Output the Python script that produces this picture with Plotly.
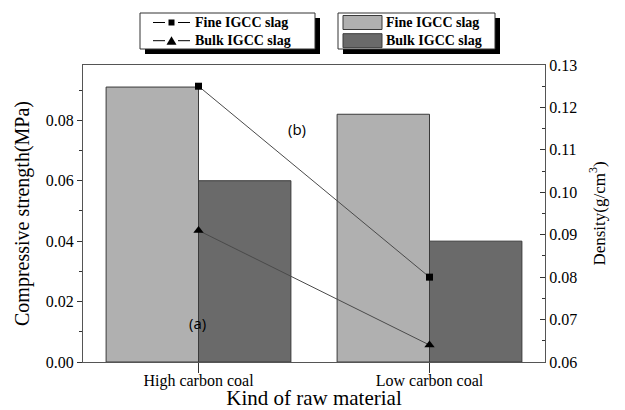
import plotly.graph_objects as go

categories = ["High carbon coal", "Low carbon coal"]
strength_fine = [0.091, 0.082]
strength_bulk = [0.060, 0.040]
density_fine = [0.125, 0.080]
density_bulk = [0.091, 0.064]
series_names = ["Fine IGCC slag", "Bulk IGCC slag"]

SERIF = "Times New Roman, Liberation Serif, serif"
LIGHT, DARK, EDGE, LINE = "#b0b0b0", "#6a6a6a", "#3a3a3a", "#4a4a4a"

# plot-area geometry in pixels (for the hand-drawn legend boxes)
W, H = 625, 410
L, R, T, B = 83, 80, 65, 48
PW, PH = W - L - R, H - T - B


def px(x):
    return (x - L) / PW


def py(y):
    return (H - B - y) / PH


fig = go.Figure()
fig.add_trace(go.Bar(x=categories, y=strength_fine, name=series_names[0],
                     marker=dict(color=LIGHT, line=dict(color=EDGE, width=1))))
fig.add_trace(go.Bar(x=categories, y=strength_bulk, name=series_names[1],
                     marker=dict(color=DARK, line=dict(color=EDGE, width=1))))
fig.add_trace(go.Scatter(x=categories, y=density_fine, name=series_names[0], yaxis="y2",
                         mode="lines+markers", line=dict(color=LINE, width=1),
                         marker=dict(symbol="square", size=7, color="black")))
fig.add_trace(go.Scatter(x=categories, y=density_bulk, name=series_names[1], yaxis="y2",
                         mode="lines+markers", line=dict(color=LINE, width=1),
                         marker=dict(symbol="triangle-up", size=9, color="black")))

shapes = []
annotations = []

ROW1, ROW2 = 22.5, 40.7   # legend row centres (px), 1.3 x 14 px line spacing
BOX_T, BOX_B = 13, 49


def box(x0, x1):
    shapes.append(dict(type="rect", xref="paper", yref="paper", x0=px(x0 + 5), x1=px(x1 + 5),
                       y0=py(BOX_B + 5), y1=py(BOX_T + 5), fillcolor="black",
                       line=dict(width=0), layer="above"))
    shapes.append(dict(type="rect", xref="paper", yref="paper", x0=px(x0), x1=px(x1),
                       y0=py(BOX_B), y1=py(BOX_T), fillcolor="white",
                       line=dict(color="#333", width=1), layer="above"))


def label(x):
    annotations.append(dict(x=px(x), y=py((ROW1 + ROW2) / 2), xref="paper", yref="paper",
                            text="<br>".join(series_names), showarrow=False,
                            xanchor="left", yanchor="middle", align="left", borderpad=0,
                            font=dict(family=SERIF, size=14, color="black", weight="bold")))


# legend 1: density lines
box(140, 315)
for yy in (ROW1, ROW2):
    for xa, xb in ((153, 165), (178, 190)):
        shapes.append(dict(type="line", xref="paper", yref="paper", x0=px(xa), x1=px(xb),
                           y0=py(yy), y1=py(yy), line=dict(color="black", width=1),
                           layer="above"))
label(194)
shapes.append(dict(type="rect", xref="paper", yref="paper", x0=px(168.5), x1=px(174.5),
                   y0=py(ROW1 + 3), y1=py(ROW1 - 3), fillcolor="black",
                   line=dict(width=0), layer="above"))
shapes.append(dict(type="path", xref="paper", yref="paper",
                   path=f"M {px(166.5)} {py(ROW2 + 4)} L {px(176.5)} {py(ROW2 + 4)} "
                        f"L {px(171.5)} {py(ROW2 - 4.5)} Z",
                   fillcolor="black", line=dict(width=0), layer="above"))

# legend 2: strength bars
box(338, 495)
for yy, col in zip((ROW1, ROW2), (LIGHT, DARK)):
    shapes.append(dict(type="rect", xref="paper", yref="paper", x0=px(343), x1=px(382),
                       y0=py(yy + 7), y1=py(yy - 7), fillcolor=col,
                       line=dict(color=EDGE, width=1), layer="above"))
label(385)

annotations += [
    dict(x=-0.005, y=0.0129, xref="x", yref="y", text="(a)", showarrow=False,
         font=dict(family="Open Sans", size=15, color="black")),
    dict(x=0.427, y=0.0770, xref="x", yref="y", text="(b)", showarrow=False,
         font=dict(family="Open Sans", size=15, color="black")),
]

fig.update_layout(
    width=W, height=H,
    margin=dict(l=L, r=R, t=T, b=B),
    paper_bgcolor="white", plot_bgcolor="white",
    barmode="group", bargap=0.2, bargroupgap=0,
    showlegend=False,
    font=dict(family=SERIF, size=16, color="black"),
    xaxis=dict(type="category", range=[-0.5, 1.5], showline=True, linecolor="#555555",
               linewidth=1, mirror=True, ticks="outside", ticklen=10, tickcolor="#333",
               ticklabelstandoff=-6,
               automargin=False, tickfont=dict(family=SERIF, size=16),
               title=dict(text="Kind of raw material", font=dict(family=SERIF, size=21),
                          standoff=2)),
    yaxis=dict(range=[0, 0.0983], dtick=0.02, tickformat=".2f", showline=True,
               linecolor="#555555", linewidth=1, ticks="outside", ticklen=5,
               tickcolor="#333", showgrid=False, zeroline=False, automargin=False,
               minor=dict(dtick=0.01, ticks="outside", ticklen=3, tickcolor="#333"),
               tickfont=dict(family=SERIF, size=16),
               title=dict(text="Compressive strength(MPa)", font=dict(family=SERIF, size=20),
                          standoff=10)),
    yaxis2=dict(range=[0.06, 0.13], dtick=0.01, tickformat=".2f", overlaying="y",
                side="right", showline=True, linecolor="#555555", linewidth=1,
                ticks="inside", ticklen=5, tickcolor="#333", showgrid=False, zeroline=False,
                automargin=False,
                minor=dict(dtick=0.005, ticks="inside", ticklen=3, tickcolor="#333"),
                tickfont=dict(family=SERIF, size=16),
                title=dict(text="Density(g/cm<sup>3</sup>)", font=dict(family=SERIF, size=17),
                           standoff=16)),
    shapes=shapes,
    annotations=annotations,
)
fig.write_html("out.html")
